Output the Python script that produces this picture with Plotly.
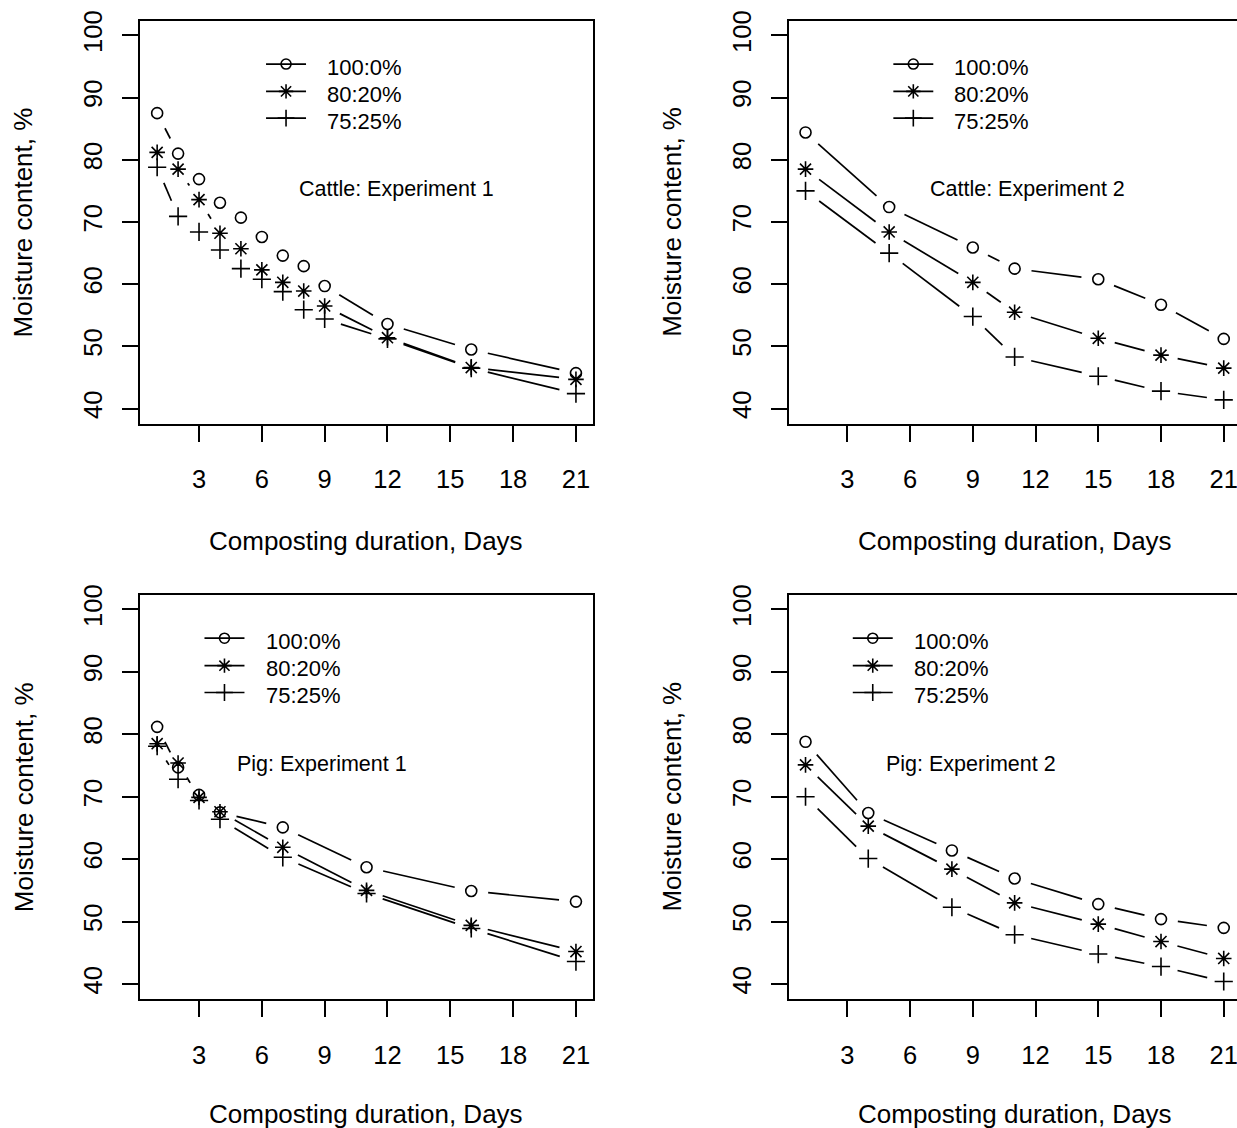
import math
import plotly.graph_objects as go

# ---------------- data ----------------
series_names = ["100:0%", "80:20%", "75:25%"]
panel_titles = ["Cattle: Experiment 1", "Cattle: Experiment 2",
                "Pig: Experiment 1", "Pig: Experiment 2"]

days_c1 = [1, 2, 3, 4, 5, 6, 7, 8, 9, 12, 16, 21]
c1_100 = [87.5, 81.0, 76.9, 73.1, 70.7, 67.6, 64.6, 62.9, 59.7, 53.6, 49.5, 45.7]
c1_80 = [81.2, 78.5, 73.6, 68.2, 65.7, 62.3, 60.3, 58.9, 56.5, 51.4, 46.6, 44.7]
c1_75 = [78.8, 70.9, 68.4, 65.5, 62.5, 60.8, 58.8, 55.9, 54.4, 51.2, 46.5, 42.4]

days_c2 = [1, 5, 9, 11, 15, 18, 21]
c2_100 = [84.4, 72.4, 65.9, 62.5, 60.8, 56.7, 51.2]
c2_80 = [78.5, 68.4, 60.3, 55.5, 51.3, 48.6, 46.5]
c2_75 = [75.0, 65.0, 54.8, 48.3, 45.2, 42.8, 41.4]

days_p1 = [1, 2, 3, 4, 7, 11, 16, 21]
p1_100 = [81.2, 74.7, 70.3, 67.5, 65.1, 58.7, 54.9, 53.2]
p1_80 = [78.5, 75.4, 69.9, 67.6, 61.9, 55.0, 49.4, 45.2]
p1_75 = [78.1, 72.8, 69.4, 66.4, 60.3, 54.5, 48.9, 43.6]

days_p2 = [1, 4, 8, 11, 15, 18, 21]
p2_100 = [78.8, 67.4, 61.4, 56.9, 52.8, 50.4, 49.0]
p2_80 = [75.1, 65.3, 58.4, 53.0, 49.6, 46.8, 44.1]
p2_75 = [70.0, 60.1, 52.3, 47.9, 44.8, 42.8, 40.4]

x_ticks = [3, 6, 9, 12, 15, 18, 21]
y_ticks = [40, 50, 60, 70, 80, 90, 100]
x_title = "Composting duration, Days"
y_title = "Moisture content, %"

panels = [
    (days_c1, [c1_100, c1_80, c1_75]),
    (days_c2, [c2_100, c2_80, c2_75]),
    (days_p1, [p1_100, p1_80, p1_75]),
    (days_p2, [p2_100, p2_80, p2_75]),
]

# ---------------- layout geometry (pixels) ----------------
W, H = 1237, 1128
FONT = "Liberation Sans, Arial, Helvetica, sans-serif"
box_x = [(140.4, 592.7), (788.8, 1237.0), (140.4, 592.7), (788.8, 1237.0)]
box_y = [(20.5, 423.5), (20.5, 423.5), (594.5, 999.0), (594.5, 999.0)]
x_ranges = [[0.2, 21.8], [0.2, 0.2 + (1237.0 - 788.8) / 20.91],
            [0.2, 21.8], [0.2, 0.2 + (1237.0 - 788.8) / 20.91]]
y_range = [37.6, 102.4]

symbols = ["circle-open", "asterisk-open", "cross-thin-open"]
sizes = [11, 13, 13]
GAP = 17  # px gap around points (R type="b")

text_pos = [(12.45, 75.3), (11.6, 75.3), (8.85, 75.3), (8.9, 75.3)]
legend_x0 = [6.2, 5.2, 3.26, 3.26]
legend_line_y = [95.4, 91.0, 86.7]
legend_text_y = [94.9, 90.5, 86.2]
LEG_LEN = 1.91   # days
LEG_TXT = 2.82   # days offset of text


def gapped(xs, ys, sx, sy, gap):
    gx, gy = [], []
    for i in range(len(xs) - 1):
        x1, y1, x2, y2 = xs[i], ys[i], xs[i + 1], ys[i + 1]
        d = math.hypot((x2 - x1) * sx, (y2 - y1) * sy)
        if d <= 2 * gap:
            continue
        t = gap / d
        gx += [x1 + t * (x2 - x1), x2 - t * (x2 - x1), None]
        gy += [y1 + t * (y2 - y1), y2 - t * (y2 - y1), None]
    return gx, gy


fig = go.Figure()
annotations = []

for p, (days, vals) in enumerate(panels):
    xa = "x" if p == 0 else f"x{p+1}"
    ya = "y" if p == 0 else f"y{p+1}"
    sx = (box_x[p][1] - box_x[p][0]) / (x_ranges[p][1] - x_ranges[p][0])
    sy = (box_y[p][1] - box_y[p][0]) / (y_range[1] - y_range[0])
    # lines with gaps
    for s, v in enumerate(vals):
        gx, gy = gapped(days, v, sx, sy, GAP)
        fig.add_trace(go.Scatter(x=gx, y=gy, mode="lines", xaxis=xa, yaxis=ya,
                                 line=dict(color="black", width=1.7),
                                 showlegend=False, hoverinfo="skip"))
    # symbols
    for s, v in enumerate(vals):
        fig.add_trace(go.Scatter(x=days, y=v, mode="markers", xaxis=xa, yaxis=ya,
                                 name=series_names[s], cliponaxis=False,
                                 marker=dict(symbol=symbols[s], size=sizes[s], color="black",
                                             line=dict(color="black", width=1.6)),
                                 showlegend=False))
    # legend (drawn inside the panel)
    for s in range(3):
        x0 = legend_x0[p]
        fig.add_trace(go.Scatter(x=[x0, x0 + LEG_LEN], y=[legend_line_y[s]] * 2,
                                 mode="lines", xaxis=xa, yaxis=ya,
                                 line=dict(color="black", width=1.7),
                                 showlegend=False, hoverinfo="skip"))
        fig.add_trace(go.Scatter(x=[x0 + LEG_LEN / 2], y=[legend_line_y[s]],
                                 mode="markers", xaxis=xa, yaxis=ya,
                                 marker=dict(symbol=symbols[s], size=sizes[s] - 1, color="black",
                                             line=dict(color="black", width=1.6)),
                                 showlegend=False, hoverinfo="skip"))
        annotations.append(dict(x=x0 + LEG_TXT, y=legend_text_y[s], xref=xa, yref=ya,
                                text=series_names[s], showarrow=False,
                                xanchor="left", yanchor="middle",
                                font=dict(family=FONT, size=22, color="black")))
    # panel title
    annotations.append(dict(x=text_pos[p][0], y=text_pos[p][1], xref=xa, yref=ya,
                            text=panel_titles[p], showarrow=False,
                            xanchor="center", yanchor="middle",
                            font=dict(family=FONT, size=21.5, color="black")))
    # axis titles
    cx = (box_x[p][0] + (box_x[p][0] + 451.9)) / 2
    title_y = 541 if p < 2 else 1114
    annotations.append(dict(x=cx / W, y=1 - title_y / H, xref="paper", yref="paper",
                            text=x_title, showarrow=False, xanchor="center", yanchor="middle",
                            font=dict(family=FONT, size=26, color="black")))
    cy = (box_y[p][0] + box_y[p][1]) / 2
    annotations.append(dict(x=(box_x[p][0] - 117) / W, y=1 - cy / H, xref="paper", yref="paper",
                            text=y_title, showarrow=False, textangle=-90,
                            xanchor="center", yanchor="middle",
                            font=dict(family=FONT, size=26, color="black")))

    xkey = "xaxis" if p == 0 else f"xaxis{p+1}"
    ykey = "yaxis" if p == 0 else f"yaxis{p+1}"
    fig.update_layout(**{
        xkey: dict(domain=[box_x[p][0] / W, box_x[p][1] / W], range=x_ranges[p],
                   anchor=ya, tickvals=x_ticks, ticks="outside", ticklen=16, tickwidth=2,
                   tickcolor="black", showline=True, linewidth=2, linecolor="black",
                   mirror=True, showgrid=False, zeroline=False, automargin=False,
                   ticklabelstandoff=16, ticklabeloverflow="allow",
                   tickfont=dict(family=FONT, size=25.5, color="black")),
        ykey: dict(domain=[1 - box_y[p][1] / H, 1 - box_y[p][0] / H], range=y_range,
                   anchor=xa, tickvals=y_ticks, ticks="outside", ticklen=16, tickwidth=2,
                   tickcolor="black", showline=True, linewidth=2, linecolor="black",
                   mirror=(p % 2 == 0), showgrid=False, zeroline=False, automargin=False,
                   tickangle=-90, ticklabelstandoff=10, ticklabeloverflow="allow",
                   tickfont=dict(family=FONT, size=25.5, color="black")),
    })

fig.update_layout(width=W, height=H, margin=dict(l=0, r=0, t=0, b=0),
                  paper_bgcolor="white", plot_bgcolor="white",
                  showlegend=False, annotations=annotations)

fig.write_html("out.html", config={"displayModeBar": False},
               post_script="document.body.style.margin='0';document.body.style.overflow='hidden';")
